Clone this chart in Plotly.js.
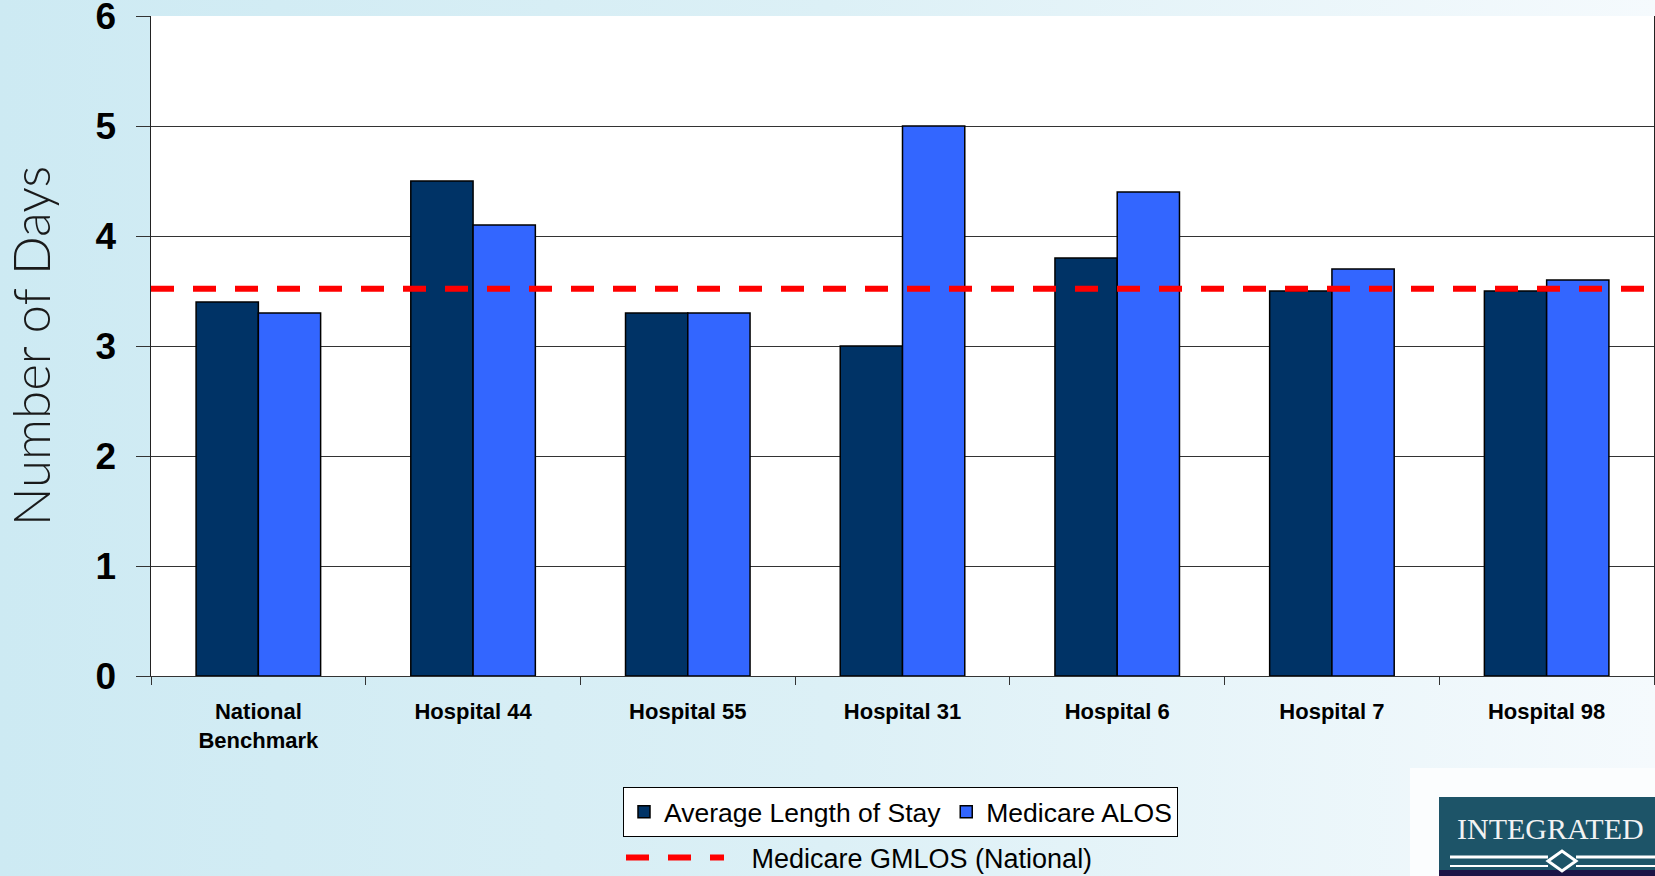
<!DOCTYPE html>
<html>
<head>
<meta charset="utf-8">
<script src="https://cdn.plot.ly/plotly-3.0.1.min.js"></script>
<style>
  html, body { margin: 0; padding: 0; width: 1655px; height: 876px; overflow: hidden;
    background: linear-gradient(to right, #cdeaf3 0%, #dcf0f6 50%, #f5fafd 100%); }
  #chart { width: 1655px; height: 876px; }
</style>
</head>
<body>
<div id="chart"></div>
<script>
const categories = ['National<br>Benchmark', 'Hospital 44', 'Hospital 55', 'Hospital 31', 'Hospital 6', 'Hospital 7', 'Hospital 98'];
const avgLengthOfStay = [3.4, 4.5, 3.3, 3.0, 3.8, 3.5, 3.5];
const medicareALOS = [3.3, 4.1, 3.3, 5.0, 4.4, 3.7, 3.6];
const medicareGMLOS = 3.52;
const seriesNames = ['Average Length of Stay', 'Medicare ALOS', '\u00a0\u00a0\u00a0Medicare GMLOS (National)'];

const FONT = 'Liberation Sans, Arial, sans-serif';

// pixel -> paper helpers (plot area: x 151..1654, y 16..676)
const px = v => (v - 151) / 1503;
const py = v => (676 - v) / 660;

const traces = [
  { type: 'bar', name: seriesNames[0], x: categories, y: avgLengthOfStay,
    marker: { color: '#003366', line: { color: '#000000', width: 1.5 } }, legend: 'legend' },
  { type: 'bar', name: seriesNames[1], x: categories, y: medicareALOS,
    marker: { color: '#3366ff', line: { color: '#000000', width: 1.5 } }, legend: 'legend' },
  { type: 'scatter', mode: 'lines', name: seriesNames[2], x: [0, 1], y: [medicareGMLOS, medicareGMLOS],
    xaxis: 'x2', yaxis: 'y', line: { color: '#ff0000', width: 6, dash: '23px,19px' }, legend: 'legend2' }
];

const layout = {
  width: 1655, height: 876,
  margin: { l: 151, r: 1, t: 16, b: 200, autoexpand: false },
  paper_bgcolor: 'rgba(0,0,0,0)',
  plot_bgcolor: '#ffffff',
  barmode: 'group', bargap: 0.42, bargroupgap: 0,
  font: { family: FONT, color: '#000000' },
  xaxis: {
    type: 'category',
    tickfont: { size: 22, weight: 'bold', family: FONT },
    ticks: 'outside', ticklen: 8, tickcolor: '#333', tickson: 'boundaries',
    showline: true, linecolor: '#333', linewidth: 1,
    ticklabelstandoff: 16,
    fixedrange: true
  },
  xaxis2: { overlaying: 'x', range: [0, 1], visible: false, fixedrange: true },
  yaxis: {
    range: [0, 6], dtick: 1, tick0: 0,
    tickfont: { size: 37, weight: 'bold', family: FONT },
    ticks: 'outside', ticklen: 14, tickcolor: '#333',
    ticklabeloverflow: 'allow',
    showgrid: true, gridcolor: '#333', gridwidth: 1,
    showline: true, linecolor: '#222', linewidth: 1.5, mirror: true,
    zeroline: false,
    ticklabelstandoff: 12,
    title: { text: 'Number of Days', font: { size: 51, family: 'Lato, Open Sans, sans-serif', weight: 300, color: '#1a1a1a' }, standoff: 38 },
    fixedrange: true
  },
  legend: {
    orientation: 'h', x: px(623), xanchor: 'left', y: py(787), yanchor: 'top',
    bgcolor: '#ffffff', bordercolor: '#000000', borderwidth: 1,
    font: { size: 26.5, family: FONT }, traceorder: 'normal'
  },
  legend2: {
    orientation: 'h', x: px(621), xanchor: 'left', y: py(858), yanchor: 'middle',
    bgcolor: 'rgba(0,0,0,0)', borderwidth: 0, itemwidth: 98,
    font: { size: 27, family: FONT }
  },
  shapes: [
    { type: 'rect', xref: 'paper', yref: 'paper', x0: px(1410), x1: px(1660), y0: py(768), y1: py(880), fillcolor: '#fbfdfe', line: { width: 0 }, layer: 'above' },
    { type: 'rect', xref: 'paper', yref: 'paper', x0: px(1439), x1: px(1660), y0: py(797), y1: py(870), fillcolor: '#1d5468', line: { width: 0 }, layer: 'above' },
    { type: 'rect', xref: 'paper', yref: 'paper', x0: px(1439), x1: px(1660), y0: py(870), y1: py(880), fillcolor: '#1c1446', line: { width: 0 }, layer: 'above' },
    { type: 'line', xref: 'paper', yref: 'paper', x0: px(1450), x1: px(1548), y0: py(857), y1: py(857), line: { color: '#ffffff', width: 3 }, layer: 'above' },
    { type: 'line', xref: 'paper', yref: 'paper', x0: px(1576), x1: px(1660), y0: py(857), y1: py(857), line: { color: '#ffffff', width: 3 }, layer: 'above' },
    { type: 'line', xref: 'paper', yref: 'paper', x0: px(1450), x1: px(1548), y0: py(866), y1: py(866), line: { color: '#ffffff', width: 2 }, layer: 'above' },
    { type: 'line', xref: 'paper', yref: 'paper', x0: px(1576), x1: px(1660), y0: py(866), y1: py(866), line: { color: '#ffffff', width: 2 }, layer: 'above' },
    { type: 'path', xref: 'paper', yref: 'paper',
      path: 'M ' + px(1548) + ' ' + py(861) + ' L ' + px(1562) + ' ' + py(851) + ' L ' + px(1576) + ' ' + py(861) + ' L ' + px(1562) + ' ' + py(871) + ' Z',
      fillcolor: '#1d5468', line: { color: '#ffffff', width: 3 }, layer: 'above' }
  ],
  annotations: [
    { xref: 'paper', yref: 'paper', x: px(1455), y: py(828), xanchor: 'left', yanchor: 'middle',
      text: 'INTEGRATED', showarrow: false, font: { family: 'Liberation Serif, DejaVu Serif, serif', size: 30, color: '#f2f2f2' } }
  ]
};

Plotly.newPlot('chart', traces, layout, { displayModeBar: false, staticPlot: true });
</script>
</body>
</html>
